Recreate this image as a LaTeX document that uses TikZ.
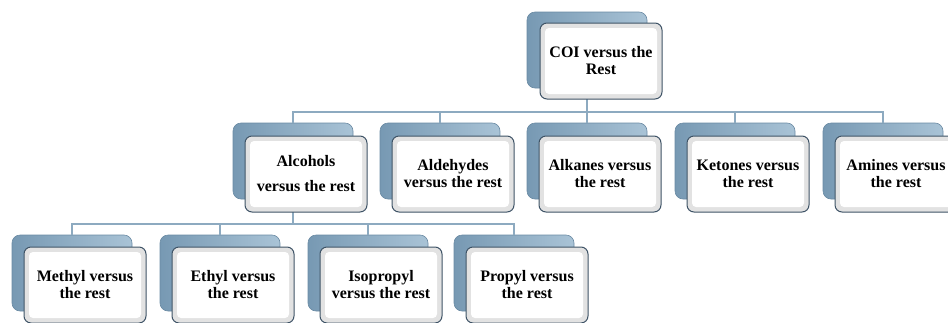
\documentclass[tikz,border=0pt]{standalone}
\usepackage{fontspec}
\setmainfont{Liberation Serif}
\usetikzlibrary{calc}
\definecolor{connc}{HTML}{8DAAC0}
\definecolor{backl}{HTML}{7799B3}
\definecolor{backr}{HTML}{A9C3D6}
\definecolor{backd}{HTML}{6A8AA3}
\definecolor{frontd}{HTML}{3F5467}
\definecolor{bevel}{HTML}{E2E2E2}
\tikzset{
  backbox/.style={minimum width=120pt, minimum height=76pt, rounded corners=8pt,
    left color=backl, right color=backr, draw=backd, line width=0.6pt, inner sep=0pt},
  frontbox/.style={minimum width=122pt, minimum height=76pt, rounded corners=7pt,
    draw=frontd, line width=1pt, fill=bevel, inner sep=0pt, align=center,
    font=\bfseries\fontsize{16}{17}\selectfont,
    path picture={\fill[white, rounded corners=4pt]
      ([shift={(5pt,-5pt)}]path picture bounding box.north west) rectangle
      ([shift={(-5pt,5pt)}]path picture bounding box.south east);}},
  conn/.style={draw=connc, line width=1.6pt}
}
\begin{document}
\begin{tikzpicture}[x=1pt,y=-1pt]
\useasboundingbox (0,0) rectangle (948,322);
\clip (0,0) rectangle (948,322);
% back boxes
\node[backbox] (topb) at (587,50) {};
\node[backbox] (alcb) at (293,161) {};
\node[backbox] (aldb) at (440,161) {};
\node[backbox] (alkb) at (587,161) {};
\node[backbox] (ketb) at (735,161) {};
\node[backbox] (amib) at (883,161) {};
\node[backbox] (metb) at (72,273) {};
\node[backbox] (ethb) at (220,273) {};
\node[backbox] (isob) at (368,273) {};
\node[backbox] (prob) at (514,273) {};
% connectors
\coordinate (bus1) at (0,112);
\coordinate (bus2) at (0,224);
\foreach \c in {alcb,aldb,alkb,ketb,amib}
  \draw[conn] (topb.south) |- (bus1 -| \c.north) -- (\c.north);
\foreach \c in {metb,ethb,isob,prob}
  \draw[conn] (alcb.south) |- (bus2 -| \c.north) -- (\c.north);
% front boxes
\node[frontbox] (topf) at (601,61) {COI versus the\\Rest};
\node[frontbox] (alcf) at (306,174) {Alcohols\\[8pt]versus the rest};
\node[frontbox] (aldf) at (453,174) {Aldehydes\\versus the rest};
\node[frontbox] (alkf) at (600,174) {Alkanes versus\\the rest};
\node[frontbox] (ketf) at (748,174) {Ketones versus\\the rest};
\node[frontbox] (amif) at (896,174) {Amines versus\\the rest};
\node[frontbox] (metf) at (85,285) {Methyl versus\\the rest};
\node[frontbox] (ethf) at (233,285) {Ethyl versus\\the rest};
\node[frontbox] (isof) at (381,285) {Isopropyl\\versus the rest};
\node[frontbox] (prof) at (527,285) {Propyl versus\\the rest};
\end{tikzpicture}
\end{document}
